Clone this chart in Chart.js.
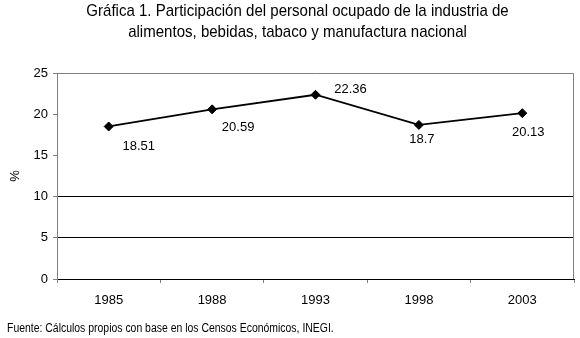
<!DOCTYPE html>
<html>
<head>
<meta charset="utf-8">
<script src="https://cdn.jsdelivr.net/npm/chart.js@4/dist/chart.umd.min.js"></script>
<style>
  html, body { margin: 0; padding: 0; background: #fff; }
  #wrap { width: 580px; height: 338px; position: relative; }
</style>
</head>
<body>
<div id="wrap"><canvas id="c" width="580" height="338"></canvas></div>
<script>
// ---- data ----
const categories = ['1985', '1988', '1993', '1998', '2003'];
const shareValues = [18.51, 20.59, 22.36, 18.7, 20.13];
const yTickValues = [0, 5, 10, 15, 20, 25];
const titleLines = ['Gráfica 1. Participación del personal ocupado de la industria de',
                    'alimentos, bebidas, tabaco y manufactura nacional'];
const yAxisTitle = '%';
const footerText = 'Fuente: Cálculos propios con base en los Censos Económicos, INEGI.';

// label placement relative to each point (pixels)
const labelOffsets = [[30, 20], [26, 18], [35, -5], [3, 15], [6, 19]];

const REG = '"Liberation Sans", Arial, sans-serif';

// horizontally condense a layout box's text (reference uses a narrow face)
function squeeze(box, sx, anchorFn) {
  if (!box || box._sq) return;
  box._sq = true;
  const orig = box.draw;
  box.draw = function (...args) {
    const ctx = this.ctx;
    const ax = anchorFn(this);
    ctx.save();
    ctx.translate(ax, 0);
    ctx.scale(sx, 1);
    ctx.translate(-ax, 0);
    orig.apply(this, args);
    ctx.restore();
  };
}

const framePlugin = {
  id: 'frame',
  afterLayout(chart) {
    if (chart.titleBlock) {
      chart.titleBlock.left += 7; chart.titleBlock.right += 7;
      squeeze(chart.titleBlock, 0.885, b => (b.left + b.right) / 2);
    }
    const sub = chart.boxes.find(b => b.options && b.options.text === footerText);
    squeeze(sub, 0.87, b => b.left);
  },
  beforeDatasetsDraw(chart) {
    const {ctx, chartArea: a} = chart;
    ctx.save();
    ctx.strokeStyle = '#808080';
    ctx.lineWidth = 1;
    ctx.beginPath();
    ctx.moveTo(a.left, a.top + 0.5);
    ctx.lineTo(a.right - 0.5, a.top + 0.5);
    ctx.lineTo(a.right - 0.5, a.bottom);
    ctx.stroke();
    ctx.restore();
  }
};

const labelPlugin = {
  id: 'valueLabels',
  afterDatasetsDraw(chart) {
    const {ctx} = chart;
    const meta = chart.getDatasetMeta(0);
    ctx.save();
    ctx.font = '13px ' + REG;
    ctx.fillStyle = '#000';
    ctx.textAlign = 'center';
    ctx.textBaseline = 'middle';
    meta.data.forEach((pt, i) => {
      const v = chart.data.datasets[0].data[i];
      const off = labelOffsets[i];
      ctx.fillText(String(v), pt.x + off[0], pt.y + off[1]);
    });
    ctx.restore();
  }
};

new Chart(document.getElementById('c'), {
  type: 'line',
  data: {
    labels: categories,
    datasets: [{
      data: shareValues,
      borderColor: '#000',
      borderWidth: 1.8,
      tension: 0,
      pointStyle: 'rectRot',
      pointRadius: 4.5,
      pointBackgroundColor: '#000',
      pointBorderColor: '#000',
      pointBorderWidth: 1
    }]
  },
  options: {
    responsive: false,
    animation: false,
    devicePixelRatio: 1,
    layout: { padding: { left: 7, right: 6, top: 0, bottom: 0 } },
    plugins: {
      legend: { display: false },
      tooltip: { enabled: false },
      title: {
        display: true,
        text: titleLines,
        color: '#000',
        font: { family: REG, size: 17, weight: 'normal', lineHeight: 1.25 },
        padding: { top: 0.5, bottom: 30 }
      },
      subtitle: {
        display: true,
        position: 'bottom',
        align: 'start',
        text: footerText,
        color: '#000',
        font: { family: REG, size: 12, weight: 'normal', lineHeight: 1.2 },
        padding: { top: 8, bottom: 2.6 }
      }
    },
    scales: {
      x: {
        type: 'category',
        offset: true,
        grid: { offset: true, drawOnChartArea: false, drawTicks: true, tickLength: 4, tickColor: '#808080' },
        border: { display: true, color: '#000', width: 1 },
        ticks: { color: '#000', font: { family: REG, size: 13 }, padding: 10, maxRotation: 0 },
        afterFit(s) { s.height = 34; }
      },
      y: {
        min: 0,
        max: 25,
        afterBuildTicks(s) { s.ticks = yTickValues.map(v => ({ value: v })); },
        grid: {
          color: c => (c.tick && c.tick.value <= 10) ? '#000' : 'rgba(0,0,0,0)',
          tickColor: '#808080',
          tickLength: 4,
          drawTicks: true
        },
        border: { display: true, color: '#808080', width: 1 },
        ticks: { color: '#000', font: { family: REG, size: 13 }, padding: 5 },
        title: {
          display: true,
          text: yAxisTitle,
          color: '#000',
          font: { family: REG, size: 13 },
          padding: { top: 1, bottom: 0 }
        },
        afterFit(s) { s.width = 50; }
      }
    }
  },
  plugins: [framePlugin, labelPlugin]
});
</script>
</body>
</html>
